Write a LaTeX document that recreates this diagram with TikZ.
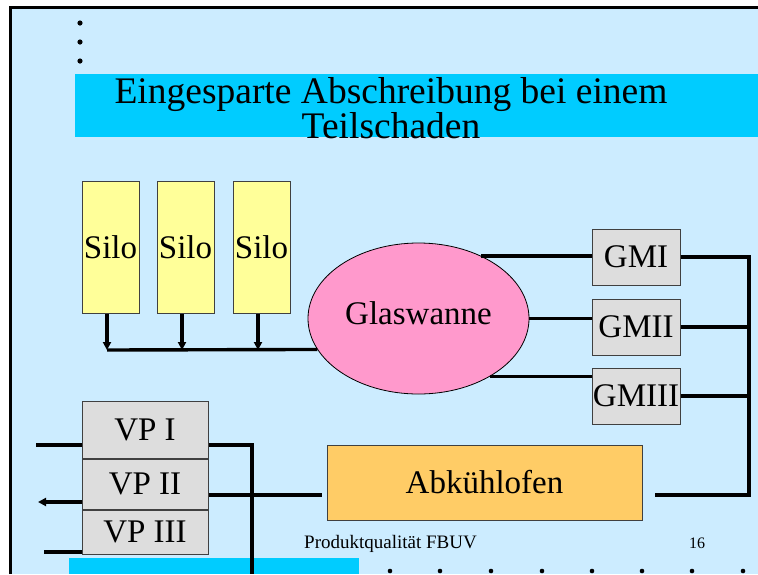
\documentclass[tikz,border=0pt]{standalone}
\usepackage{fontspec}
\setmainfont{Liberation Serif}
\usetikzlibrary{shapes.geometric, arrows.meta}
\definecolor{slidebg}{HTML}{CCECFF}
\definecolor{banner}{HTML}{00CCFF}
\definecolor{silofill}{HTML}{FFFF99}
\definecolor{wannefill}{HTML}{FF99CC}
\definecolor{boxgray}{HTML}{DDDDDD}
\definecolor{ofenfill}{HTML}{FFCC66}
\definecolor{edge}{HTML}{404040}

\begin{document}
\begin{tikzpicture}[x=1pt, y=-1pt,
  unit/.style={draw=edge, line width=1pt, inner sep=0pt, font=\fontsize{33}{36}\selectfont},
  silobox/.style={unit, fill=silofill, minimum width=57pt, minimum height=132pt},
  gmbox/.style={unit, fill=boxgray, minimum width=88pt, minimum height=56pt},
  vpbox/.style={unit, fill=boxgray, minimum width=126pt},
  conn/.style={line width=3.4pt},
  flow/.style={-{Triangle[width=8pt,length=8pt]}}]
\useasboundingbox (0,0) rectangle (758,574);
\fill[white] (0,0) rectangle (758,574);
\fill[slidebg] (10,8) rectangle (758,574);
\draw[line width=3.6pt] (10.5,574) -- (10.5,7.5) -- (758,7.5);

% bullets and title
\foreach \y in {23,42,61}
  \fill (80,\y) circle (2.6pt);
\fill[banner] (75,74) rectangle (758,137);
\node[font=\fontsize{37.5}{31}\selectfont, align=center, inner sep=0pt] (title) at (391,108)
  {Eingesparte Abschreibung bei einem\\Teilschaden};

% silos into the tank
\node[silobox] (silo1) at (110.5,247) {Silo};
\node[silobox] (silo2) at (185.5,247) {Silo};
\node[silobox] (silo3) at (261.5,247) {Silo};
\node[ellipse, draw=black, line width=0.8pt, fill=wannefill, minimum width=221pt,
  minimum height=151pt, inner sep=0pt, text depth=10pt,
  font=\fontsize{33}{36}\selectfont] (wanne) at (418.5,318.5) {Glaswanne};
\coordinate (bus) at (107,350);
\foreach \s in {silo1,silo2,silo3}
  \draw[conn, flow] ([xshift=-3.5pt]\s.south) -- ([xshift=-3.5pt]\s.south |- bus);
\draw[conn] (bus) -- (wanne.197);

% forming machines
\node[gmbox] (gm1) at (636,257) {GMI};
\node[gmbox] (gm2) at (636,327) {GMII};
\node[gmbox] (gm3) at (636,396) {GMIII};
\draw[conn] (wanne.45) -- (wanne.45 -| gm1.west);
\draw[conn] (wanne.east) -- (wanne.east -| gm2.west);
\draw[conn] (wanne.-39) -- (wanne.-39 -| gm3.west);
\coordinate (rtop) at (749,257);
\coordinate (rbot) at (749,495);
\coordinate (ofenin) at (655,495);
\draw[conn] (gm1.east) -- (rtop) -- (rbot) -- (ofenin);
\draw[conn] (gm2.east) -- (gm2.east -| rtop);
\draw[conn] (gm3.east) -- (gm3.east -| rtop);

% lehr and packing
\node[unit, fill=ofenfill, minimum width=315pt, minimum height=75pt] (ofen) at (484.5,482.5) {Abkühlofen};
\node[vpbox, minimum height=57pt] (vp1) at (145,429.5) {VP I};
\node[vpbox, minimum height=50pt, anchor=north] (vp2) at (vp1.south) {VP II};
\node[vpbox, minimum height=44pt, anchor=north] (vp3) at (vp2.south) {VP III};
\fill[banner] (69,558) rectangle (359,574);
\coordinate (feed1) at (36,445);
\coordinate (feed2) at (38,502);
\coordinate (feed3) at (44,552);
\coordinate (drop) at (252,574);
\coordinate (ofenout) at (322,495);
\draw[conn] (feed1) -- (feed1 -| vp1.west);
\draw[conn, flow] (feed2 -| vp2.west) -- (feed2);
\draw[conn] (feed3) -- (feed3 -| vp3.west);
\draw[conn] (feed1 -| vp1.east) -- (feed1 -| drop) -- (drop);
\draw[conn] (ofenout -| vp2.east) -- (ofenout);

% footer
\node[anchor=base west, inner sep=0pt, font=\fontsize{19}{22}\selectfont] (footer) at (304,548) {Produktqualität FBUV};
\node[anchor=base west, inner sep=0pt, font=\fontsize{16}{18}\selectfont] (pagenum) at (689,548) {16};
\foreach \x in {390,440,491,542,592,642,692,743}
  \fill (\x,571) circle (2.3pt);
\end{tikzpicture}
\end{document}
